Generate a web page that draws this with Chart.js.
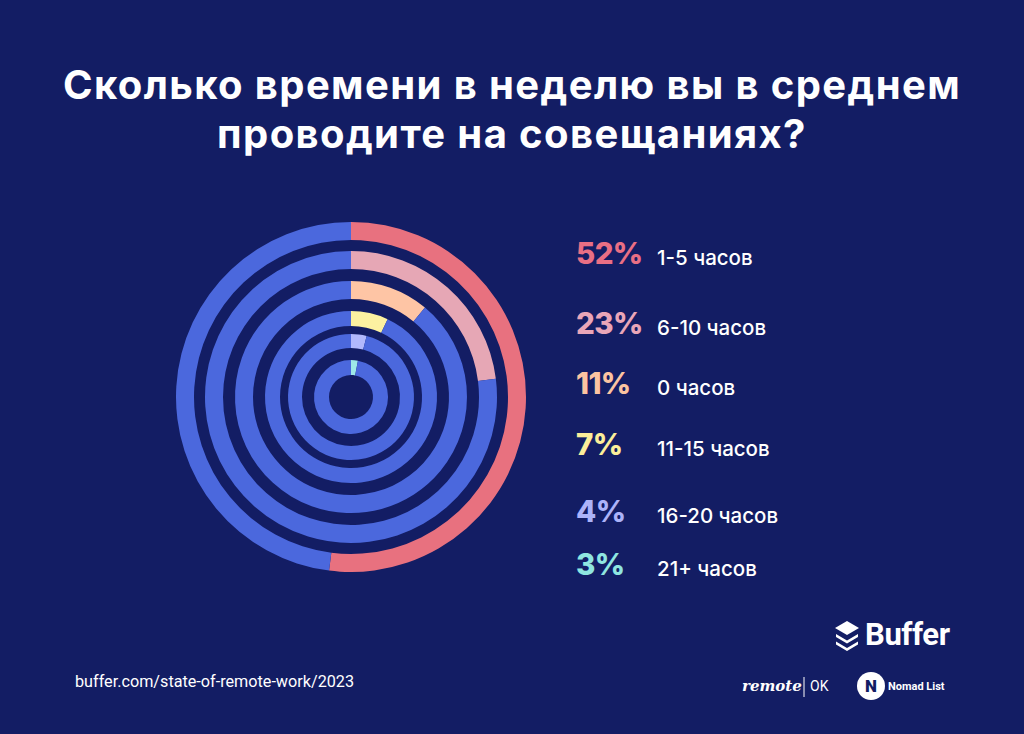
<!DOCTYPE html>
<html lang="ru">

<head>
    <meta charset="UTF-8">
    <title>Совещания</title>
    <script src="https://cdn.jsdelivr.net/npm/chart.js"></script>
    <style>
        html, body {
            margin: 0;
            padding: 0;
            width: 1024px;
            height: 734px;
            background: #131d64;
            overflow: hidden;
            font-family: Inter, "Noto Sans", sans-serif;
            color: #ffffff;
        }

        .title {
            position: absolute;
            left: 0;
            top: 60px;
            width: 1024px;
            text-align: center;
            font-weight: 700;
            font-size: 40px;
            line-height: 49px;
            letter-spacing: 1.4px;
        }

        .rings {
            position: absolute;
            left: 176px;
            top: 222px;
            width: 350px;
            height: 350px;
        }

        .row {
            position: absolute;
            left: 576px;
            height: 40px;
        }

        .row .pct {
            position: absolute;
            left: 0;
            bottom: 0;
            font-weight: 800;
            font-size: 29.5px;
            line-height: 30px;
            letter-spacing: -0.6px;
        }

        .row .lbl {
            position: absolute;
            left: 81px;
            bottom: 0;
            font-weight: 500;
            font-size: 20.5px;
            line-height: 20px;
            white-space: nowrap;
        }

        .source {
            position: absolute;
            left: 75px;
            top: 672px;
            font-family: Roboto, sans-serif;
            font-size: 16.2px;
        }

        .buffer {
            position: absolute;
            left: 834px;
            top: 620px;
            height: 32px;
        }

        .buffer span {
            position: absolute;
            left: 31px;
            top: -4px;
            font-family: Roboto, sans-serif;
            font-weight: 700;
            font-size: 31px;
            letter-spacing: -0.4px;
        }

        .partners {
            position: absolute;
            left: 742px;
            top: 672px;
            width: 220px;
            height: 30px;
        }
    </style>
</head>

<body>

    <div class="title">Сколько времени в неделю вы в среднем<br>проводите на совещаниях?</div>

    <div class="rings">
        <canvas id="rings"></canvas>
    </div>

    <div id="legend"></div>

    <div class="source">buffer.com/state-of-remote-work/2023</div>

    <div class="buffer">
        <svg width="26" height="32" viewBox="0 0 26 32">
            <path d="M13 1 L25 8 L13 15 L1 8 Z" fill="#fff" />
            <path d="M2 14 L13 20.5 L24 14 L24 17 L13 23.5 L2 17 Z" fill="#fff" />
            <path d="M2 21.5 L13 28 L24 21.5 L24 24.5 L13 31 L2 24.5 Z" fill="#fff" />
        </svg>
        <span>Buffer</span>
    </div>

    <svg class="partners" viewBox="0 0 220 30">
        <text x="0" y="19" fill="#fff" font-family="DejaVu Serif, serif" font-style="italic" font-weight="700"
            font-size="15">remote</text>
        <line x1="62" y1="5" x2="62" y2="25" stroke="#fff" stroke-width="1" />
        <text x="68" y="19" fill="#fff" font-family="Roboto, sans-serif" font-size="14">OK</text>
        <circle cx="129" cy="14" r="14" fill="#fff" />
        <text x="129" y="20" fill="#131d64" font-family="Roboto, sans-serif" font-weight="900" font-size="17"
            text-anchor="middle">N</text>
        <text x="146" y="18" fill="#fff" font-family="Roboto, sans-serif" font-weight="700" font-size="11">Nomad List</text>
    </svg>

    <script>
        // data, outer ring first
        const categories = ['1-5 часов', '6-10 часов', '0 часов', '11-15 часов', '16-20 часов', '21+ часов'];
        const shares = [52, 23, 11, 7, 4, 3];
        const ringColors = ['#e8717f', '#e6a7b5', '#fec5a5', '#fcf1a1', '#b1b8fc', '#9ee9e8'];
        const legendColors = ['#e96f84', '#e9a6b8', '#fcc4a1', '#fbee9a', '#acb3f9', '#8fe6e0'];

        // ring and gap thickness in px (outer to inner)
        const ringWidths = [18, 18, 18, 15, 14, 15];
        const gapWidths = [11, 12, 12, 8, 12];
        const restColor = '#4b68dd';

        const datasets = [];
        shares.forEach(function (v, i) {
            datasets.push({
                label: categories[i],
                data: [v, 100 - v],
                backgroundColor: [ringColors[i], restColor],
                borderWidth: 0,
                weight: ringWidths[i]
            });
            if (i < gapWidths.length) {
                datasets.push({
                    label: 'gap',
                    data: [1],
                    backgroundColor: 'rgba(0,0,0,0)',
                    borderWidth: 0,
                    weight: gapWidths[i]
                });
            }
        });

        new Chart(document.getElementById('rings').getContext('2d'), {
            type: 'doughnut',
            data: {
                labels: ['share', 'rest'],
                datasets: datasets
            },
            options: {
                responsive: true,
                maintainAspectRatio: false,
                animation: false,
                cutout: 22,
                layout: { padding: 0 },
                plugins: {
                    legend: { display: false },
                    tooltip: { enabled: false }
                }
            }
        });

        // legend on the right
        const rowBottoms = [262, 332, 392, 453, 520, 573];
        const legend = document.getElementById('legend');
        categories.forEach(function (name, i) {
            const row = document.createElement('div');
            row.className = 'row';
            row.style.top = (rowBottoms[i] - 40 + 6) + 'px';
            row.innerHTML = '<span class="pct" style="color:' + legendColors[i] + '">' + shares[i] + '%</span>' +
                '<span class="lbl">' + name + '</span>';
            legend.appendChild(row);
        });
    </script>

</body>

</html>
